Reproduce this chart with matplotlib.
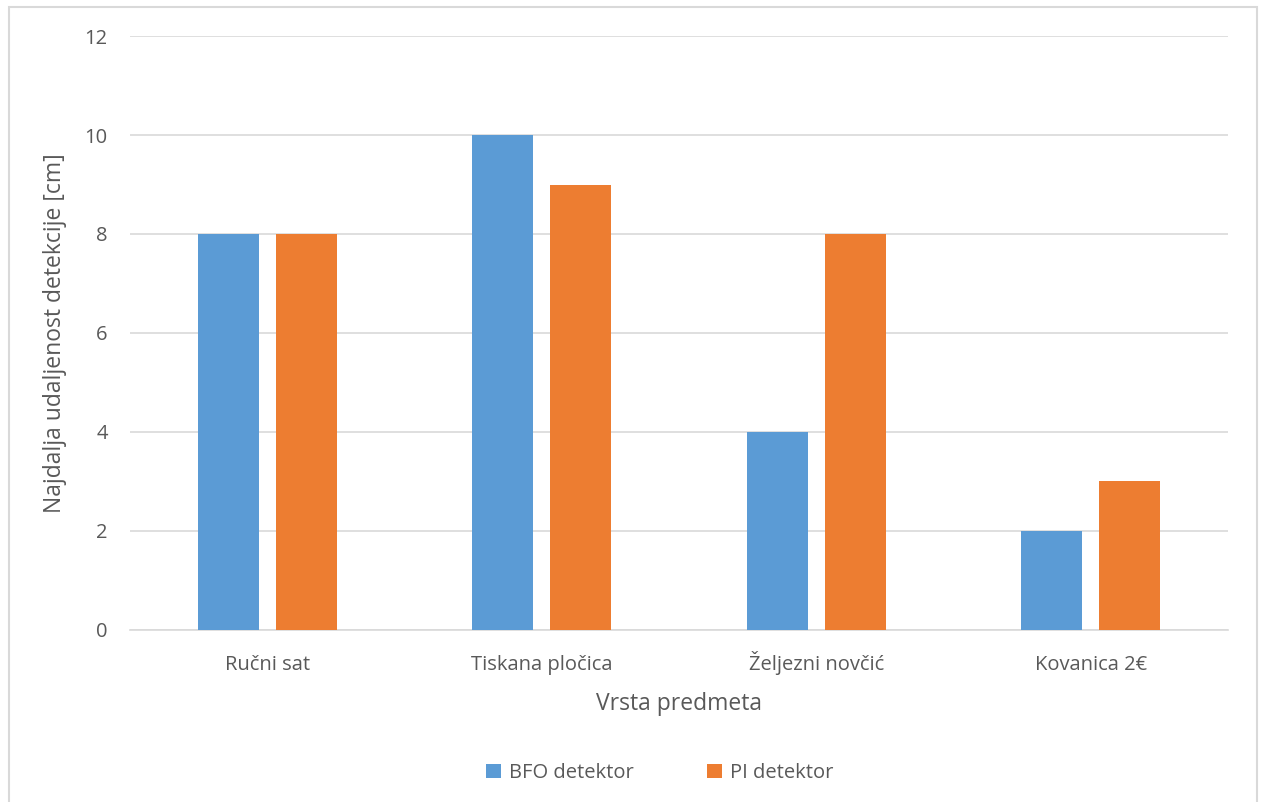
import numpy as np
import matplotlib.pyplot as plt
from matplotlib.patches import Rectangle

# data
categories = ['Ručni sat', 'Tiskana pločica', 'Željezni novčić', 'Kovanica 2€']
bfo = [8, 10, 4, 2]
pi = [8, 9, 8, 3]

plt.rcParams['font.family'] = ['Open Sans', 'DejaVu Sans']
txt = '#595959'

fig = plt.figure(figsize=(12.64, 8.02), dpi=100)
ax = fig.add_axes([0.1028, 0.2145, 0.8687, 0.7406])

x = np.arange(len(categories))
w = 0.222
ax.bar(x - 0.142, bfo, w, color='#5B9BD5', label='BFO detektor', zorder=3)
ax.bar(x + 0.142, pi, w, color='#ED7D31', label='PI detektor', zorder=3)

ax.set_xlim(-0.5, len(categories) - 0.5)
ax.set_ylim(0, 12)
ax.set_yticks(range(0, 13, 2))
ax.set_xticks(x)
ax.set_xticklabels(categories)
ax.yaxis.grid(True, color='#D9D9D9', linewidth=1.2, zorder=0)
for s in ['top', 'right', 'left']:
    ax.spines[s].set_visible(False)
ax.spines['bottom'].set_color('#D9D9D9')
ax.spines['bottom'].set_linewidth(1.2)
ax.tick_params(axis='both', length=0, labelsize=14.5, colors=txt)
ax.tick_params(axis='x', pad=29)
ax.tick_params(axis='y', pad=16)
# same baseline for all category labels (Ž would push one lower otherwise)
for lbl in ax.get_xticklabels():
    lbl.set_verticalalignment('baseline')

ax.set_xlabel('Vrsta predmeta', fontsize=16.5, color=txt, labelpad=12)
ax.set_ylabel('Najdalja udaljenost detekcije [cm]', fontsize=16.5, color=txt, labelpad=13)

leg = fig.legend(loc='center', bbox_to_anchor=(0.522, 0.036), ncol=2, frameon=False,
                 fontsize=14.5, handlelength=0.75, handleheight=0.75, columnspacing=3.6,
                 handletextpad=0.4)
for t in leg.get_texts():
    t.set_color(txt)

# chart border
fig.patches.append(Rectangle((9 / 1264, -0.01), 1248 / 1264, 1 - 7 / 802 + 0.01,
                             transform=fig.transFigure, fill=False,
                             edgecolor='#D9D9D9', linewidth=1.5))

fig.savefig('out.png', dpi=100)
